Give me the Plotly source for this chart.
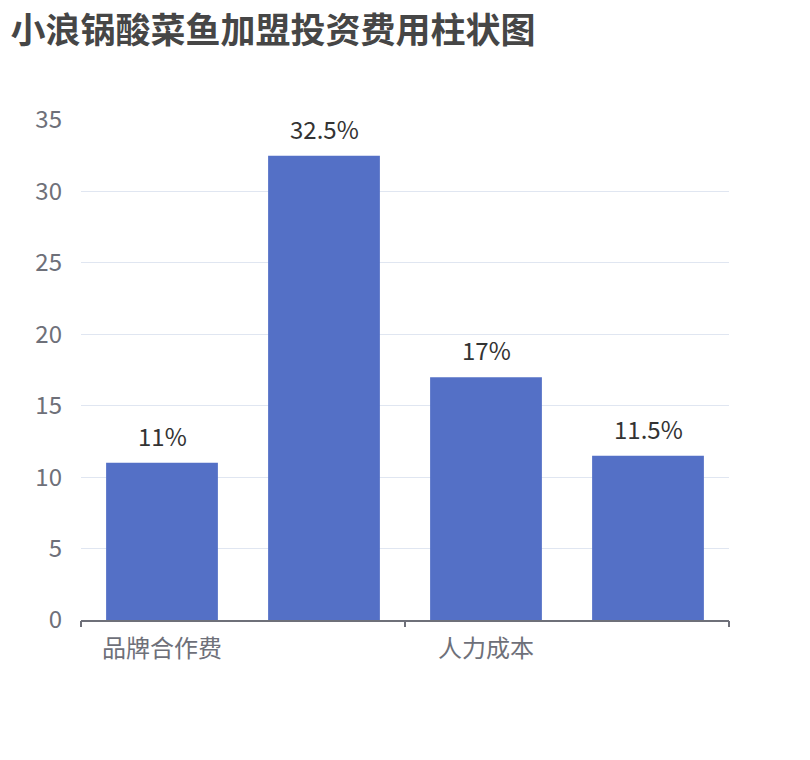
import plotly.graph_objects as go

title = "小浪锅酸菜鱼加盟投资费用柱状图"
categories = ["品牌合作费", "店面装修费", "人力成本", "设备费用"]
values = [11, 32.5, 17, 11.5]
value_labels = ["11%", "32.5%", "17%", "11.5%"]
shown_ticks = ["品牌合作费", "人力成本"]
y_ticks = [0, 5, 10, 15, 20, 25, 30, 35]

FONT = "Noto Sans CJK SC, Microsoft YaHei, sans-serif"
AXIS_C = "#6E7079"

fig = go.Figure()
fig.add_trace(go.Bar(
    x=categories, y=values,
    marker=dict(color="#5470C6", line=dict(width=0)),
    cliponaxis=False, hoverinfo="skip",
))
# axis overlay for boundary ticks
fig.add_trace(go.Scatter(x=[-0.5, 3.5], y=[0, 0], xaxis="x2", mode="lines",
                         line=dict(width=0), hoverinfo="skip", showlegend=False))

for c, v, t in zip(categories, values, value_labels):
    fig.add_annotation(x=c, y=v, text=t, showarrow=False, xref="x", yref="y",
                       yanchor="bottom", yshift=8,
                       font=dict(size=24, color="#333333", family=FONT))

fig.update_layout(
    width=810, height=760,
    margin=dict(l=73, r=89, t=112, b=148),
    paper_bgcolor="white", plot_bgcolor="white",
    showlegend=False, bargap=0.31,
    font=dict(family=FONT),
    title=dict(text="<b>" + title + "</b>", x=0.003, xanchor="left", y=0.97, yanchor="middle",
               font=dict(size=35, color="#464646", family=FONT)),
    xaxis=dict(type="category", categoryorder="array", categoryarray=categories,
               tickmode="array", tickvals=shown_ticks, ticktext=shown_ticks,
               ticks="", showline=True, linecolor=AXIS_C, linewidth=1.5,
               tickfont=dict(size=24, color=AXIS_C, family=FONT),
               ticklabelstandoff=6, showgrid=False, zeroline=False),
    xaxis2=dict(overlaying="x", range=[-0.5, 3.5], tickmode="array",
                tickvals=[-0.5, 1.5, 3.5], showticklabels=False, ticks="outside",
                ticklen=6, tickcolor=AXIS_C, tickwidth=1.5, showline=False,
                showgrid=False, zeroline=False, side="bottom", anchor="y"),
    yaxis=dict(range=[0, 35], tickmode="array", tickvals=y_ticks,
               gridcolor="#E0E6F1", gridwidth=1, showline=False, zeroline=False,
               tickfont=dict(size=24, color=AXIS_C, family=FONT),
               ticks="", ticklabelstandoff=18),
)

fig.write_html("out.html")
